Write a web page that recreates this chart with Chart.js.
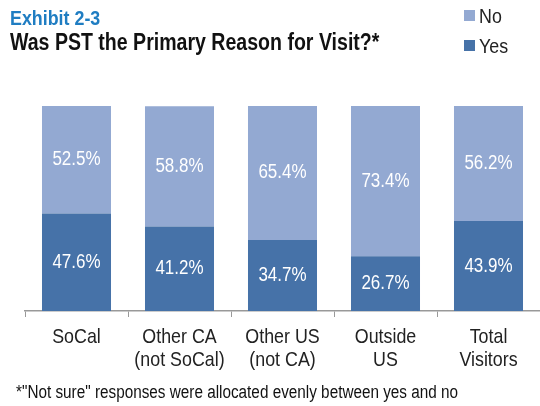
<!DOCTYPE html>
<html>
<head>
<meta charset="utf-8">
<script src="https://cdn.jsdelivr.net/npm/chart.js@4"></script>
<style>
  body { margin: 0; background: #fff; }
  #wrap { position: relative; width: 540px; height: 406px; font-family: "Liberation Sans", Arial, sans-serif; }
  #Chart__Canvas { position: absolute; left: 0; top: 0; }
  .Narrow { position: absolute; white-space: nowrap; transform: scaleX(0.85); transform-origin: left center; }
  .Title { left: 10px; top: 7px; line-height: 22px; font-size: 21px; font-weight: bold; color: #1f7dc2; }
  .Subtitle { left: 10px; top: 30px; line-height: 24px; font-size: 23px; font-weight: bold; color: #111; }
  .Legend { font-size: 21px; line-height: 22px; color: #222; }
  .Swatch { position: absolute; width: 11px; height: 11px; }
  .Footnote { left: 16px; top: 382px; line-height: 20px; font-size: 18px; color: #111; }
</style>
</head>
<body>
<div id="wrap">
  <canvas id="Chart__Canvas" width="540" height="406"></canvas>
  <div class="Narrow Title">Exhibit 2-3</div>
  <div class="Narrow Subtitle">Was PST the Primary Reason for Visit?*</div>
  <div class="Narrow Footnote">*"Not sure" responses were allocated evenly between yes and no</div>
</div>
<script>
const categories = [
  ["SoCal"],
  ["Other CA", "(not SoCal)"],
  ["Other US", "(not CA)"],
  ["Outside", "US"],
  ["Total", "Visitors"],
];
const yesValues = [47.6, 41.2, 34.7, 26.7, 43.9];
const noValues = [52.5, 58.8, 65.4, 73.4, 56.2];

const yesColor = "#4672a8";
const noColor = "#93a9d2";
const fontName = "'Liberation Sans', Arial, sans-serif";
const squeeze = 0.85;

function narrowText(ctx, text, x, y) {
  ctx.save();
  ctx.translate(x, y);
  ctx.scale(squeeze, 1);
  ctx.fillText(text, 0, 0);
  ctx.restore();
}

// white percentage labels in the middle of each segment
const segmentLabels = {
  id: "segmentLabels",
  afterDatasetsDraw(chart) {
    const ctx = chart.ctx;
    ctx.save();
    ctx.fillStyle = "#fff";
    ctx.font = "20px " + fontName;
    ctx.textAlign = "center";
    ctx.textBaseline = "middle";
    chart.data.datasets.forEach((ds, i) => {
      chart.getDatasetMeta(i).data.forEach((bar, j) => {
        narrowText(ctx, ds.data[j].toFixed(1) + "%", bar.x, (bar.y + bar.base) / 2);
      });
    });
    ctx.restore();
  },
};

// category labels under the axis, drawn narrow
const categoryLabels = {
  id: "categoryLabels",
  afterDraw(chart) {
    const ctx = chart.ctx;
    const xScale = chart.scales.x;
    ctx.save();
    ctx.fillStyle = "#222";
    ctx.font = "21px " + fontName;
    ctx.textAlign = "center";
    ctx.textBaseline = "middle";
    chart.data.labels.forEach((lines, i) => {
      const x = xScale.getPixelForTick(i);
      lines.forEach((line, k) => {
        narrowText(ctx, line, x, xScale.top + 26 + k * 23);
      });
    });
    ctx.restore();
  },
};

const chart = new Chart(document.getElementById("Chart__Canvas"), {
  type: "bar",
  data: {
    labels: categories,
    datasets: [
      { label: "Yes", data: yesValues, backgroundColor: yesColor },
      { label: "No", data: noValues, backgroundColor: noColor },
    ],
  },
  options: {
    responsive: false,
    animation: false,
    layout: { padding: { left: 25, right: 0, top: 106, bottom: 0 } },
    plugins: { legend: { display: false }, tooltip: { enabled: false } },
    datasets: { bar: { categoryPercentage: 1, barPercentage: 0.67 } },
    scales: {
      x: {
        stacked: true,
        grid: { drawOnChartArea: false, drawTicks: true, tickLength: 6, color: "#999", offset: true },
        border: { color: "#999", width: 1.5 },
        ticks: { display: false },
        afterFit(scale) { scale.height = 95; },
      },
      y: { stacked: true, display: false, min: 0, max: 100.1 },
    },
  },
  plugins: [segmentLabels, categoryLabels],
});

// legend: No on top, Yes below
let wrap = document.getElementById("wrap");
[chart.data.datasets[1], chart.data.datasets[0]].forEach((ds, i) => {
  let swatch = document.createElement("div");
  swatch.className = "Swatch";
  swatch.style.background = ds.backgroundColor;
  swatch.style.left = "464px";
  swatch.style.top = 10 + i * 30 + "px";
  wrap.appendChild(swatch);
  let label = document.createElement("div");
  label.className = "Narrow Legend";
  label.style.left = "479px";
  label.style.top = 5 + i * 30 + "px";
  label.textContent = ds.label;
  wrap.appendChild(label);
});
</script>
</body>
</html>
